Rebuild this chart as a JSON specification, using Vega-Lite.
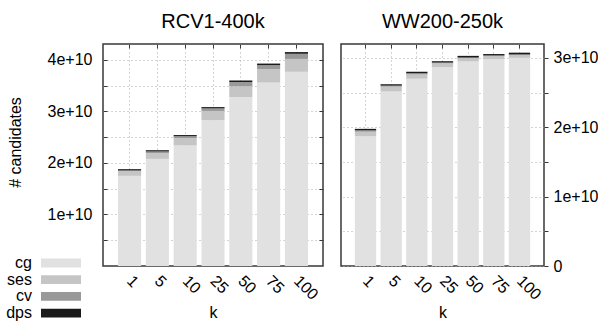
{
  "$schema": "https://vega.github.io/schema/vega-lite/v6.json",
  "padding": {"left": 6, "top": 10, "right": 0, "bottom": 0},
  "config": {
    "font": "Liberation Sans",
    "view": {"stroke": "#383838", "strokeWidth": 1.5},
    "axis": {
      "labelFont": "Liberation Sans", "labelFontSize": 16, "labelColor": "#000000",
      "titleFont": "Liberation Sans", "titleFontSize": 16, "titleFontWeight": "normal", "titleColor": "#000000",
      "domain": false, "gridDash": [1, 3], "gridColor": "#a8a8a8", "gridWidth": 1, "tickColor": "#383838", "tickWidth": 1
    },
    "title": {"font": "Liberation Sans", "fontSize": 20, "fontWeight": "normal", "color": "#000000"}
  },
  "data": {"values": [
    {"ds": "RCV1-400k", "k": 1, "c": "cg", "o": 1, "v": 1.75e10},
    {"ds": "RCV1-400k", "k": 1, "c": "ses", "o": 2, "v": 0.09e10},
    {"ds": "RCV1-400k", "k": 1, "c": "cv", "o": 3, "v": 0.015e10},
    {"ds": "RCV1-400k", "k": 1, "c": "dps", "o": 4, "v": 0.025e10},
    {"ds": "RCV1-400k", "k": 5, "c": "cg", "o": 1, "v": 2.08e10},
    {"ds": "RCV1-400k", "k": 5, "c": "ses", "o": 2, "v": 0.11e10},
    {"ds": "RCV1-400k", "k": 5, "c": "cv", "o": 3, "v": 0.033e10},
    {"ds": "RCV1-400k", "k": 5, "c": "dps", "o": 4, "v": 0.025e10},
    {"ds": "RCV1-400k", "k": 10, "c": "cg", "o": 1, "v": 2.34e10},
    {"ds": "RCV1-400k", "k": 10, "c": "ses", "o": 2, "v": 0.14e10},
    {"ds": "RCV1-400k", "k": 10, "c": "cv", "o": 3, "v": 0.04e10},
    {"ds": "RCV1-400k", "k": 10, "c": "dps", "o": 4, "v": 0.022e10},
    {"ds": "RCV1-400k", "k": 25, "c": "cg", "o": 1, "v": 2.83e10},
    {"ds": "RCV1-400k", "k": 25, "c": "ses", "o": 2, "v": 0.18e10},
    {"ds": "RCV1-400k", "k": 25, "c": "cv", "o": 3, "v": 0.05e10},
    {"ds": "RCV1-400k", "k": 25, "c": "dps", "o": 4, "v": 0.025e10},
    {"ds": "RCV1-400k", "k": 50, "c": "cg", "o": 1, "v": 3.28e10},
    {"ds": "RCV1-400k", "k": 50, "c": "ses", "o": 2, "v": 0.21e10},
    {"ds": "RCV1-400k", "k": 50, "c": "cv", "o": 3, "v": 0.08e10},
    {"ds": "RCV1-400k", "k": 50, "c": "dps", "o": 4, "v": 0.03e10},
    {"ds": "RCV1-400k", "k": 75, "c": "cg", "o": 1, "v": 3.56e10},
    {"ds": "RCV1-400k", "k": 75, "c": "ses", "o": 2, "v": 0.26e10},
    {"ds": "RCV1-400k", "k": 75, "c": "cv", "o": 3, "v": 0.08e10},
    {"ds": "RCV1-400k", "k": 75, "c": "dps", "o": 4, "v": 0.03e10},
    {"ds": "RCV1-400k", "k": 100, "c": "cg", "o": 1, "v": 3.77e10},
    {"ds": "RCV1-400k", "k": 100, "c": "ses", "o": 2, "v": 0.25e10},
    {"ds": "RCV1-400k", "k": 100, "c": "cv", "o": 3, "v": 0.10e10},
    {"ds": "RCV1-400k", "k": 100, "c": "dps", "o": 4, "v": 0.033e10},
    {"ds": "WW200-250k", "k": 1, "c": "cg", "o": 1, "v": 1.87e10},
    {"ds": "WW200-250k", "k": 1, "c": "ses", "o": 2, "v": 0.065e10},
    {"ds": "WW200-250k", "k": 1, "c": "cv", "o": 3, "v": 0.02e10},
    {"ds": "WW200-250k", "k": 1, "c": "dps", "o": 4, "v": 0.022e10},
    {"ds": "WW200-250k", "k": 5, "c": "cg", "o": 1, "v": 2.515e10},
    {"ds": "WW200-250k", "k": 5, "c": "ses", "o": 2, "v": 0.07e10},
    {"ds": "WW200-250k", "k": 5, "c": "cv", "o": 3, "v": 0.015e10},
    {"ds": "WW200-250k", "k": 5, "c": "dps", "o": 4, "v": 0.02e10},
    {"ds": "WW200-250k", "k": 10, "c": "cg", "o": 1, "v": 2.70e10},
    {"ds": "WW200-250k", "k": 10, "c": "ses", "o": 2, "v": 0.062e10},
    {"ds": "WW200-250k", "k": 10, "c": "cv", "o": 3, "v": 0.015e10},
    {"ds": "WW200-250k", "k": 10, "c": "dps", "o": 4, "v": 0.024e10},
    {"ds": "WW200-250k", "k": 25, "c": "cg", "o": 1, "v": 2.865e10},
    {"ds": "WW200-250k", "k": 25, "c": "ses", "o": 2, "v": 0.055e10},
    {"ds": "WW200-250k", "k": 25, "c": "cv", "o": 3, "v": 0.012e10},
    {"ds": "WW200-250k", "k": 25, "c": "dps", "o": 4, "v": 0.02e10},
    {"ds": "WW200-250k", "k": 50, "c": "cg", "o": 1, "v": 2.95e10},
    {"ds": "WW200-250k", "k": 50, "c": "ses", "o": 2, "v": 0.045e10},
    {"ds": "WW200-250k", "k": 50, "c": "cv", "o": 3, "v": 0.01e10},
    {"ds": "WW200-250k", "k": 50, "c": "dps", "o": 4, "v": 0.024e10},
    {"ds": "WW200-250k", "k": 75, "c": "cg", "o": 1, "v": 2.98e10},
    {"ds": "WW200-250k", "k": 75, "c": "ses", "o": 2, "v": 0.045e10},
    {"ds": "WW200-250k", "k": 75, "c": "cv", "o": 3, "v": 0.01e10},
    {"ds": "WW200-250k", "k": 75, "c": "dps", "o": 4, "v": 0.02e10},
    {"ds": "WW200-250k", "k": 100, "c": "cg", "o": 1, "v": 3.00e10},
    {"ds": "WW200-250k", "k": 100, "c": "ses", "o": 2, "v": 0.04e10},
    {"ds": "WW200-250k", "k": 100, "c": "cv", "o": 3, "v": 0.01e10},
    {"ds": "WW200-250k", "k": 100, "c": "dps", "o": 4, "v": 0.025e10}
  ]},
  "spacing": 15,
  "resolve": {"scale": {"x": "independent", "y": "independent", "color": "shared"}, "legend": {"color": "independent"}},
  "hconcat": [
    {
      "width": 220, "height": 222,
      "title": {"text": "RCV1-400k", "offset": 12},
      "transform": [{"filter": "datum.ds == 'RCV1-400k'"}],
      "resolve": {"axis": {"x": "independent", "y": "independent"}},
      "layer": [
        {
          "mark": {"type": "bar"},
          "encoding": {
            "x": {"field": "k", "type": "ordinal",
              "scale": {"paddingInner": 0.17, "paddingOuter": 0.54},
              "axis": {"title": "k", "labelAngle": 45, "labelAlign": "left", "labelBaseline": "middle", "labelPadding": 12, "ticks": false, "grid": true, "titlePadding": 2}},
            "y": {"field": "v", "type": "quantitative", "stack": "zero",
              "scale": {"domain": [0, 4.31e10], "nice": false, "zero": true},
              "axis": {"title": "# candidates", "values": [5e9, 1e10, 1.5e10, 2e10, 2.5e10, 3e10, 3.5e10, 4e10],
                "labelExpr": "datum.value % 1e10 == 0 ? (datum.value / 1e10) + 'e+10' : ''",
                "tickSize": -4, "labelPadding": 15, "titlePadding": 24, "titleY": 98, "grid": true}},
            "color": {"field": "c", "type": "nominal",
              "scale": {"domain": ["cg", "ses", "cv", "dps"], "range": ["#e1e1e1", "#c5c5c5", "#999999", "#1a1a1a"]},
              "legend": {"orient": "none", "legendX": -50, "legendY": 211, "title": null, "padding": 0,
                "symbolType": "M-2.5,-0.55H2.5V0.55H-2.5Z", "symbolSize": 256, "symbolStrokeWidth": 0, "symbolOpacity": 1,
                "labelAlign": "right", "labelOffset": -37, "labelFontSize": 16, "labelFont": "Liberation Sans", "labelColor": "#000000",
                "rowPadding": 0.7}},
            "order": {"field": "o", "type": "quantitative"}
          }
        },
        {
          "mark": {"type": "bar", "opacity": 0},
          "encoding": {
            "x": {"field": "k", "type": "ordinal",
              "axis": {"orient": "top", "title": null, "labels": false, "tickSize": -4, "grid": false}},
            "y": {"field": "v", "type": "quantitative", "stack": "zero",
              "axis": {"orient": "right", "title": null, "labels": false, "values": [5e9, 1e10, 1.5e10, 2e10, 2.5e10, 3e10, 3.5e10, 4e10], "tickSize": -4, "grid": false}}
          }
        }
      ]
    },
    {
      "width": 203, "height": 222,
      "title": {"text": "WW200-250k", "offset": 12},
      "transform": [{"filter": "datum.ds == 'WW200-250k'"}],
      "resolve": {"axis": {"x": "independent", "y": "independent"}},
      "layer": [
        {
          "mark": {"type": "bar"},
          "encoding": {
            "x": {"field": "k", "type": "ordinal",
              "scale": {"paddingInner": 0.17, "paddingOuter": 0.54},
              "axis": {"title": "k", "labelAngle": 45, "labelAlign": "left", "labelBaseline": "middle", "labelPadding": 12, "ticks": false, "grid": true, "titlePadding": 2}},
            "y": {"field": "v", "type": "quantitative", "stack": "zero",
              "scale": {"domain": [0, 3.2e10], "nice": false, "zero": true},
              "axis": {"orient": "right", "title": null, "values": [0, 5e9, 1e10, 1.5e10, 2e10, 2.5e10, 3e10],
                "labelExpr": "datum.value == 0 ? '0' : (datum.value % 1e10 == 0 ? (datum.value / 1e10) + 'e+10' : '')",
                "tickSize": 4, "labelPadding": 5, "grid": true}},
            "color": {"field": "c", "type": "nominal", "legend": null},
            "order": {"field": "o", "type": "quantitative"}
          }
        },
        {
          "mark": {"type": "bar", "opacity": 0},
          "encoding": {
            "x": {"field": "k", "type": "ordinal",
              "axis": {"orient": "top", "title": null, "labels": false, "tickSize": -4, "grid": false}},
            "y": {"field": "v", "type": "quantitative", "stack": "zero", "axis": null}
          }
        }
      ]
    }
  ]
}
